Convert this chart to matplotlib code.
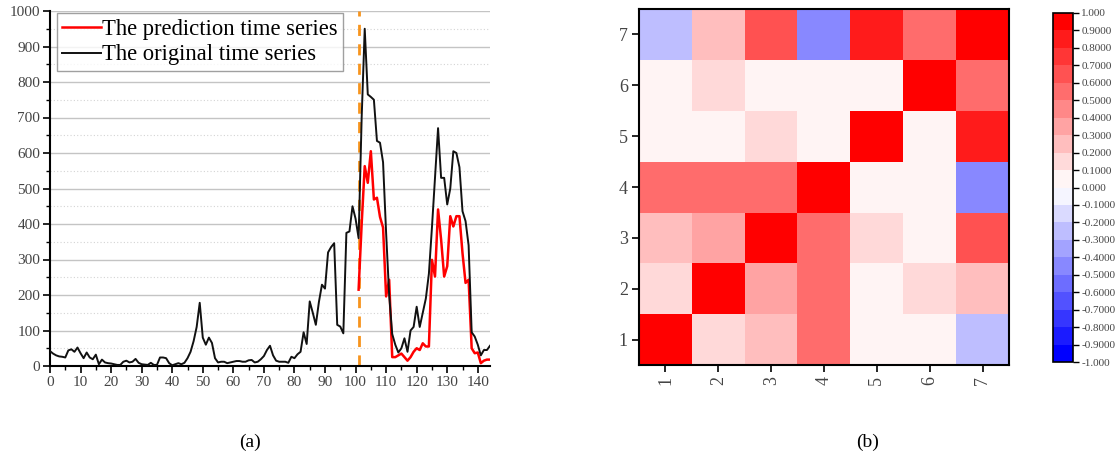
import matplotlib
matplotlib.use("Agg")
import matplotlib.pyplot as plt
from matplotlib.colors import ListedColormap, BoundaryNorm
from matplotlib.ticker import MultipleLocator
import numpy as np

# (a) time series, one value per step 0..144
original = [42, 35, 30, 27, 26, 24, 44, 47, 40, 52,
            36, 22, 38, 24, 19, 32, 5, 18, 10, 8,
            7, 5, 3, 3, 12, 15, 10, 12, 20, 9,
            5, 4, 3, 9, 3, 3, 24, 24, 22, 8,
            2, 5, 8, 5, 9, 22, 40, 70, 110, 178,
            80, 60, 80, 65, 22, 10, 12, 12, 8, 10,
            12, 14, 14, 12, 12, 16, 17, 10, 12, 19,
            28, 45, 57, 30, 15, 12, 12, 12, 9, 26,
            22, 33, 40, 95, 62, 182, 150, 116, 180, 229,
            218, 320, 335, 346, 116, 111, 92, 375, 379, 450,
            415, 360, 700, 950, 765, 758, 750, 634, 629, 574,
            375, 200, 90, 60, 38, 50, 78, 40, 100, 110,
            167, 110, 150, 190, 260, 390, 530, 670, 530, 530,
            455, 500, 605, 600, 560, 436, 408, 340, 95, 83,
            60, 30, 45, 45, 57]
pred_start = 101
prediction = [215, 400, 563, 516, 605, 469, 474, 420, 390, 196,
              243, 25, 25, 30, 35, 25, 15, 25, 40, 50,
              45, 64, 55, 55, 299, 252, 441, 356, 252, 281,
              422, 393, 422, 422, 318, 234, 243, 50, 36, 38,
              8, 15, 18, 18]

# (b) correlation matrix, row 1 at bottom
labels = ["1", "2", "3", "4", "5", "6", "7"]
corr = [
    [1.00, 0.15, 0.25, 0.55, 0.05, 0.05, -0.25],
    [0.15, 1.00, 0.35, 0.55, 0.05, 0.15, 0.25],
    [0.25, 0.35, 1.00, 0.55, 0.15, 0.05, 0.65],
    [0.55, 0.55, 0.55, 1.00, 0.05, 0.05, -0.45],
    [0.05, 0.05, 0.15, 0.05, 1.00, 0.05, 0.85],
    [0.05, 0.15, 0.05, 0.05, 0.05, 1.00, 0.55],
    [-0.25, 0.25, 0.65, -0.45, 0.85, 0.55, 1.00],
]

serif = ["Liberation Serif", "DejaVu Serif"]
plt.rcParams["font.family"] = serif

fig = plt.figure(figsize=(11.16, 4.59), dpi=100)
W, H = 1116, 459


def box(x0, y0, x1, y1):
	return [x0 / W, 1 - y1 / H, (x1 - x0) / W, (y1 - y0) / H]


# ---- (a) ----
ax = fig.add_axes(box(50, 11, 490, 366))
x = np.arange(len(original))
xp = np.arange(pred_start, pred_start + len(prediction))
ax.yaxis.grid(True, which="major", color="#c4c4c4", lw=1.0)
ax.yaxis.grid(True, which="minor", color="#d4d4d4", lw=0.8, ls=(0, (1, 2)))
ax.set_axisbelow(True)
ax.axvline(pred_start, color="#f7941d", lw=2, ls=(0, (4, 3)), zorder=2)
ax.plot(xp, prediction, color="#ff0000", lw=1.8, label="The prediction time series", zorder=3)
ax.plot(x, original, color="#111111", lw=1.4, label="The original time series", zorder=4)
ax.set_xlim(0, 144)
ax.set_ylim(0, 1000)
ax.xaxis.set_major_locator(MultipleLocator(10))
ax.xaxis.set_minor_locator(MultipleLocator(5))
ax.yaxis.set_major_locator(MultipleLocator(100))
ax.yaxis.set_minor_locator(MultipleLocator(50))
for s in ["top", "right"]:
	ax.spines[s].set_visible(False)
for s in ["left", "bottom"]:
	ax.spines[s].set_linewidth(1.5)
ax.tick_params(which="major", length=5, width=1.2, labelsize=11, labelcolor="#444444", pad=2)
ax.tick_params(which="minor", length=3, width=1.0)
leg = ax.legend(loc="upper left", bbox_to_anchor=(0.01, 1.0), fontsize=16.3, frameon=True,
                fancybox=False, edgecolor="#888888", handlelength=1.7, handletextpad=0.05,
                borderpad=0.25, labelspacing=0.2, borderaxespad=0.1)
leg.get_frame().set_linewidth(1.0)
fig.text(250 / W, 1 - 442 / H, "(a)", ha="center", va="center", fontsize=14)

# ---- (b) ----
bands = []
for k in range(10):
	t = 0.04 + 0.96 * (9 - k) / 9
	bands.append((1 - t, 1 - t, 1.0))
for k in range(10):
	t = 0.04 + 0.96 * k / 9
	bands.append((1.0, 1 - t, 1 - t))
cmap = ListedColormap(bands)
norm = BoundaryNorm(np.linspace(-1, 1, 21), cmap.N)

hx = fig.add_axes(box(639, 9, 1009, 365))
im = hx.imshow(np.array(corr), cmap=cmap, norm=norm, origin="lower", aspect="auto",
               extent=(0.5, 7.5, 0.5, 7.5), interpolation="nearest")
hx.set_xticks(range(1, 8))
hx.set_yticks(range(1, 8))
hx.set_xticklabels(labels, rotation=90)
hx.set_yticklabels(labels)
for s in hx.spines.values():
	s.set_linewidth(1.5)
hx.tick_params(length=5, width=1.2, labelsize=13, labelcolor="#444444", pad=3)
fig.text(868 / W, 1 - 442 / H, "(b)", ha="center", va="center", fontsize=14)

cx = fig.add_axes(box(1053, 13, 1073, 362))
cb = fig.colorbar(im, cax=cx, ticks=np.linspace(-1, 1, 21))
cb.ax.set_yticklabels(["%.3f" % v if abs(v) > 0.99 or abs(v) < 0.01 else "%.4f" % v
                       for v in np.linspace(-1, 1, 21)])
cb.outline.set_linewidth(1.2)
cb.ax.tick_params(length=4, width=1, labelsize=8, labelcolor="#444444", pad=2)

fig.savefig("out.png", dpi=100)
